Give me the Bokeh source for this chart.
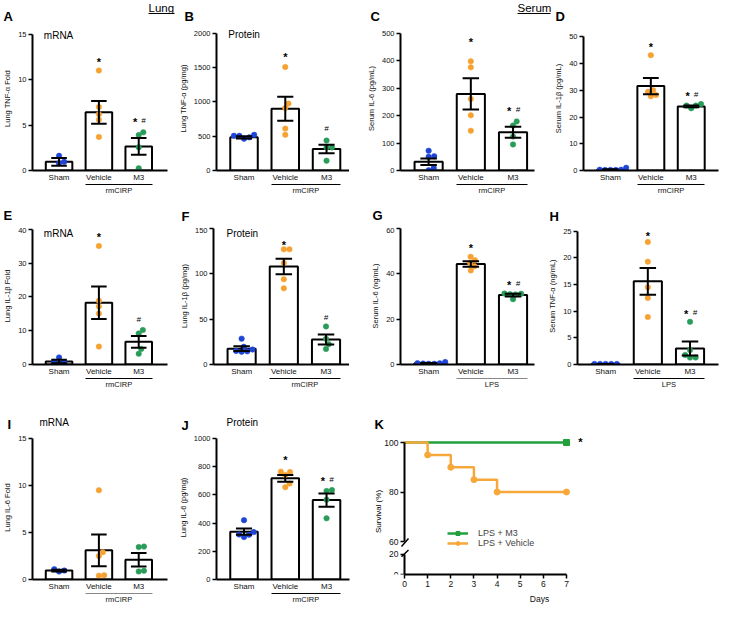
import numpy as np
from bokeh.plotting import figure
from bokeh.models import (Range1d, LinearAxis, FixedTicker, Label, Arrow,
                          Legend, LegendItem)
from bokeh.layouts import row, column
from bokeh.embed import file_html
from bokeh.resources import INLINE
from bokeh.core.properties import value

GROUPS = ["Sham", "Vehicle", "M3"]

# ---------------- data ----------------
# A: Lung TNF-α mRNA (fold)
A_sham = [1.62, 0.95, 0.8]
A_vehicle = [11.0, 7.0, 6.2, 5.6, 3.7]
A_m3 = [4.2, 3.9, 2.55, 0.25]
A_mean = [0.95, 6.4, 2.65]
A_sem = [0.42, 1.25, 0.92]
A_sig = ["", "*", "* #"]
A_sig_y = [0, 12.1, 5.5]

# B: Lung TNF-α protein (pg/mg)
B_sham = [520, 506, 464, 483, 506]
B_vehicle = [1508, 975, 910, 611, 520]
B_m3 = [437, 336, 336, 143]
B_mean = [483, 900, 313]
B_sem = [15, 175, 62]
B_sig = ["", "*", "#"]
B_sig_y = [0, 1683, 611]

# C: Serum IL-6 (pg/mL), rmCIRP
C_sham = [72, 50, 52, 9, 1]
C_vehicle = [398, 376, 261, 201, 145]
C_m3 = [164, 179, 124, 95]
C_mean = [32, 279, 139]
C_sem = [12, 57, 20]
C_sig = ["", "*", "* #"]
C_sig_y = [0, 474, 222]

# D: Serum IL-1β (pg/mL)
D_sham = [0.2, 0.2, 0.2, 0.3, 0.3, 1.0]
D_vehicle = [43.2, 30.1, 29.5, 28.3, 27.8]
D_m3 = [24.3, 23.3, 24.3, 24.9]
D_mean = [0.3, 31.6, 24.0]
D_sem = [0.15, 3.0, 0.35]
D_sig = ["", "*", "* #"]
D_sig_y = [0, 46.9, 28.6]

# E: Lung IL-1β mRNA (fold)
E_sham = [2.1, 0.8, 0.6, 0.3]
E_vehicle = [35.1, 18.9, 17.2, 15.1, 5.3]
E_m3 = [10.2, 9.2, 4.6, 3.2]
E_mean = [0.9, 18.3, 6.7]
E_sem = [0.5, 4.8, 1.75]
E_sig = ["", "*", "#"]
E_sig_y = [0, 38.3, 13.3]

# F: Lung IL-1β protein (pg/mg)
F_sham = [28.5, 19.5, 15.0, 14.0, 14.5, 16.5]
F_vehicle = [127, 127, 112, 94, 84]
F_m3 = [42, 28.3, 22.4, 17.2]
F_mean = [17.5, 108, 27.5]
F_sem = [2.5, 8.5, 5.5]
F_sig = ["", "*", "#"]
F_sig_y = [0, 133.8, 51.7]

# G: Serum IL-6 (ng/mL), LPS
G_sham = [0.3, 0.3, 0.4, 0.5, 0.6, 1.1]
G_vehicle = [47.5, 46.0, 44.8, 43.3, 41.5]
G_m3 = [31.3, 31.0, 30.9, 31.2, 28.8]
G_mean = [0.5, 44.3, 30.6]
G_sem = [0.15, 1.2, 0.6]
G_sig = ["", "*", "* #"]
G_sig_y = [0, 51.8, 35.6]

# H: Serum TNF-α (ng/mL), LPS
H_sham = [0.1, 0.1, 0.1, 0.1, 0.1]
H_vehicle = [23.0, 19.3, 14.5, 12.5, 8.9]
H_m3 = [8.0, 2.7, 1.8, 1.3, 1.3]
H_mean = [0.1, 15.6, 3.0]
H_sem = [0.0, 2.5, 1.3]
H_sig = ["", "*", "* #"]
H_sig_y = [0, 24.4, 9.8]

# I: Lung IL-6 mRNA (fold)
I_sham = [0.85, 1.1, 0.95]
I_vehicle = [9.5, 2.9, 2.5, 0.4, 0.45]
I_m3 = [3.5, 3.45, 0.86, 0.93]
I_mean = [0.95, 3.1, 2.1]
I_sem = [0.1, 1.7, 0.72]
I_sig = ["", "", ""]
I_sig_y = [0, 0, 0]

# J: Lung IL-6 protein (pg/mg)
J_sham = [421, 319, 301, 317, 336]
J_vehicle = [762, 765, 742, 680, 655]
J_m3 = [628, 634, 566, 434]
J_mean = [339, 718, 563]
J_sem = [22, 24, 47]
J_sig = ["", "*", "* #"]
J_sig_y = [0, 860, 710]

# K: survival (%)
K_days_m3 = [0, 7]
K_surv_m3 = [100, 100]
K_days_veh = [0, 1, 2, 3, 4, 7]
K_surv_veh = [100, 95, 90, 85, 80, 80]

# ---------------- styling / layout ----------------
S = 0.97
def P(v):
    return int(round(v * S))

FONT = "Liberation Sans"
BLUE, ORANGE, GREEN = "#1f45d6", "#f6a233", "#2a9c5a"
GCOL = [BLUE, ORANGE, GREEN]
CAT_PX = 43.5           # reference px between category centres
BAR_W = 29 / CAT_PX
CAP = 8.5 / CAT_PX
X0 = 1 - 29 / CAT_PX
FULL_W = P(741)
LETTER = "13px"


def style_axis(ax, size="7.5px"):
    ax.axis_line_width = 2
    ax.axis_line_color = "black"
    ax.major_tick_line_width = 1.5
    ax.major_tick_line_color = "black"
    ax.major_tick_out = 4
    ax.major_tick_in = 0
    ax.minor_tick_out = 0
    ax.minor_tick_in = 0
    ax.major_label_text_font = FONT
    ax.major_label_text_font_size = size
    ax.major_label_text_color = "#111111"
    ax.major_label_standoff = 2
    ax.axis_label_text_font = FONT
    ax.axis_label_text_font_size = size
    ax.axis_label_text_font_style = "normal"
    ax.axis_label_text_color = "#111111"
    ax.axis_label_standoff = 3


def add_label(p, x, y, text, size, bold=False, align="left", angle=0.0):
    p.add_layout(Label(x=x, y=y, text=text, text_font=FONT, text_font_size=size,
                       text_font_style="bold" if bold else "normal",
                       text_align=align, text_baseline="middle", angle=angle,
                       text_color="black"))


def add_line(p, xa, ya, xb, yb, width=1.0, color="black"):
    p.add_layout(Arrow(start=None, end=None, x_start=xa, y_start=ya, x_end=xb, y_end=yb,
                       line_color=color, line_width=width))


def header(y0, y1, texts, lines):
    """Strip above a row of panels holding the panel letters and section titles."""
    H = P(y1) - P(y0)
    p = figure(width=FULL_W, height=H, x_range=Range1d(0, FULL_W), y_range=Range1d(H, 0),
               x_axis_type=None, y_axis_type=None, output_backend="svg",
               toolbar_location=None, min_border=0)
    p.outline_line_color = None
    for (t, X, Y, size, bold) in texts:
        p.text(x=[P(X)], y=[P(Y) - P(y0)], text=[t], text_font=value(FONT),
               text_font_size=size, text_font_style="bold" if bold else "normal",
               text_align="left", text_baseline="middle", text_color="black")
    for (Xa, Xb, Y) in lines:
        p.segment(x0=[P(Xa)], x1=[P(Xb)], y0=[P(Y) - P(y0)], y1=[P(Y) - P(y0)],
                  line_color="black", line_width=1)
    return p


def swarm(vals, ypx, xpx, d=5.6):
    vals = np.asarray(vals, float)
    order = np.argsort(vals, kind="stable")
    placed = []
    offs = np.zeros(len(vals))
    for i in order:
        y = vals[i] * ypx
        cands = [0.0]
        for (qx, qy) in placed:
            dy = abs(qy - y)
            if dy < d:
                dx = np.sqrt(d * d - dy * dy)
                cands += [qx + dx, qx - dx]
        cands.sort(key=lambda c: (abs(c), -c))
        for c in cands:
            if all((c - qx) ** 2 + (qy - y) ** 2 >= d * d - 1e-6 for qx, qy in placed):
                offs[i] = c
                placed.append((c, y))
                break
    return offs / xpx


def bar_panel(spec):
    fx0, fx1, ry0, ry1 = spec["box"]
    l, r, ytop, b = spec["frame"]
    W = P(fx1) - P(fx0)
    H = P(ry1) - P(ry0)
    bl, br = P(l) - P(fx0), P(fx1) - P(r)
    bb = P(ry1) - P(b)
    fw = W - bl - br
    xpx = CAT_PX * S
    x1 = X0 + fw / xpx
    ymax = spec["ymax"]
    ypx = (P(b) - P(ytop)) / ymax
    yext = (P(b) - P(ry0)) / ypx

    p = figure(width=W, height=H, x_range=Range1d(X0, x1), y_range=Range1d(0, yext),
               x_axis_type=None, y_axis_type=None, output_backend="svg",
               toolbar_location=None, min_border_left=bl, min_border_right=br,
               min_border_top=0, min_border_bottom=bb)
    p.outline_line_color = None

    def D(X, Y):
        return X0 + (P(X) - P(l)) / xpx, (P(b) - P(Y)) / ypx

    yax = LinearAxis(ticker=FixedTicker(ticks=spec["ticks"], minor_ticks=[]),
                     axis_label=spec["ylabel"], bounds=(0, ymax))
    style_axis(yax)
    p.add_layout(yax, "left")

    xax = LinearAxis(ticker=FixedTicker(ticks=[1, 2, 3], minor_ticks=[]),
                     major_label_overrides={1: GROUPS[0], 2: GROUPS[1], 3: GROUPS[2]})
    style_axis(xax, "8px")
    xax.major_tick_out = 0
    xax.major_label_standoff = 2
    p.add_layout(xax, "below")

    gax = LinearAxis(ticker=FixedTicker(ticks=[2.5], minor_ticks=[]),
                     major_label_overrides={2.5: spec["group"]}, bounds=(1.66, 3.34))
    style_axis(gax, "7.5px")
    gax.axis_line_width = 1
    gax.axis_line_color = spec.get("gcolor", "black")
    gax.major_tick_out = 0
    gax.major_label_standoff = 1
    p.add_layout(gax, "below")

    xs = np.array([1, 2, 3], float)
    mean = np.array(spec["mean"], float)
    sem = np.array(spec["sem"], float)
    p.vbar(x=xs, top=mean, bottom=0, width=BAR_W, fill_color="white",
           line_color="black", line_width=2)
    for gi, vals in enumerate(spec["pts"]):
        offs = swarm(vals, ypx, xpx)
        p.scatter(x=gi + 1 + offs, y=vals, size=5.5, fill_color=GCOL[gi],
                  line_color=GCOL[gi], line_width=0.5)
    p.segment(x0=xs, y0=mean - sem, x1=xs, y1=mean + sem, line_color="black", line_width=2)
    p.segment(x0=xs - CAP, y0=mean + sem, x1=xs + CAP, y1=mean + sem,
              line_color="black", line_width=2)
    p.segment(x0=xs - CAP, y0=mean - sem, x1=xs + CAP, y1=mean - sem,
              line_color="black", line_width=2)

    sx, sy, hx, hy = [], [], [], []
    for gi, (s, yv) in enumerate(zip(spec["sig"], spec["sig_y"])):
        if "*" in s and "#" in s:
            sx.append(gi + 1 - 0.09); sy.append(yv - 1.5 / ypx)
            hx.append(gi + 1 + 0.12); hy.append(yv)
        elif "*" in s:
            sx.append(gi + 1); sy.append(yv - 1.5 / ypx)
        elif "#" in s:
            hx.append(gi + 1); hy.append(yv)
    if sx:
        p.text(x=sx, y=sy, text=["*"] * len(sx), text_align="center",
               text_baseline="middle", text_font=value(FONT), text_font_size="11px",
               text_font_style="bold", text_color="black")
    if hx:
        p.text(x=hx, y=hy, text=["#"] * len(hx), text_align="center",
               text_baseline="middle", text_font=value(FONT), text_font_size="8px",
               text_font_style="italic", text_color="black")

    if "inner" in spec:
        it, ix, iy = spec["inner"]
        add_label(p, *D(ix, iy), it, "10px")
    return p


R1 = (27, 203)
R2 = (234, 403)
R3 = (448, 625)

specs = {
    "A": dict(box=(0, 180) + R1, frame=(25, 172, 35, 180), ymax=15, ticks=[0, 5, 10, 15],
              ylabel="Lung TNF-α Fold", pts=[A_sham, A_vehicle, A_m3], mean=A_mean, sem=A_sem,
              sig=A_sig, sig_y=A_sig_y, group="rmCIRP", inner=("mRNA", 37, 36)),
    "B": dict(box=(180, 360) + R1, frame=(220, 360, 34, 179), ymax=2000,
              ticks=[0, 500, 1000, 1500, 2000], ylabel="Lung TNF-α (pg/mg)",
              pts=[B_sham, B_vehicle, B_m3], mean=B_mean, sem=B_sem, sig=B_sig, sig_y=B_sig_y,
              group="rmCIRP", inner=("Protein", 232, 35)),
    "C": dict(box=(360, 568) + R1, frame=(412, 550, 34, 179), ymax=500,
              ticks=[0, 100, 200, 300, 400, 500], ylabel="Serum IL-6 (pg/mL)",
              pts=[C_sham, C_vehicle, C_m3], mean=C_mean, sem=C_sem, sig=C_sig, sig_y=C_sig_y,
              group="rmCIRP"),
    "D": dict(box=(568, 741) + R1, frame=(595, 740, 38, 182), ymax=50,
              ticks=[0, 10, 20, 30, 40, 50], ylabel="Serum IL-1β (pg/mL)",
              pts=[D_sham, D_vehicle, D_m3], mean=D_mean, sem=D_sem, sig=D_sig, sig_y=D_sig_y,
              group="rmCIRP"),
    "E": dict(box=(0, 180) + R2, frame=(25, 172, 236, 381), ymax=40,
              ticks=[0, 10, 20, 30, 40], ylabel="Lung IL-1β Fold",
              pts=[E_sham, E_vehicle, E_m3], mean=E_mean, sem=E_sem, sig=E_sig, sig_y=E_sig_y,
              group="rmCIRP", inner=("mRNA", 37, 240)),
    "F": dict(box=(180, 360) + R2, frame=(220, 360, 235, 380), ymax=150,
              ticks=[0, 50, 100, 150], ylabel="Lung IL-1β (pg/mg)",
              pts=[F_sham, F_vehicle, F_m3], mean=F_mean, sem=F_sem, sig=F_sig, sig_y=F_sig_y,
              group="rmCIRP", inner=("Protein", 233, 240)),
    "G": dict(box=(360, 560) + R2, frame=(412, 550, 235, 381), ymax=60,
              ticks=[0, 20, 40, 60], ylabel="Serum IL-6 (ng/mL)",
              pts=[G_sham, G_vehicle, G_m3], mean=G_mean, sem=G_sem, sig=G_sig, sig_y=G_sig_y,
              group="LPS", gcolor="#888888"),
    "H": dict(box=(560, 741) + R2, frame=(595, 740, 238, 383), ymax=25,
              ticks=[0, 5, 10, 15, 20, 25], ylabel="Serum TNF-α (ng/mL)",
              pts=[H_sham, H_vehicle, H_m3], mean=H_mean, sem=H_sem, sig=H_sig, sig_y=H_sig_y,
              group="LPS"),
    "I": dict(box=(0, 180) + R3, frame=(25, 172, 452, 597), ymax=15,
              ticks=[0, 5, 10, 15], ylabel="Lung IL-6 Fold",
              pts=[I_sham, I_vehicle, I_m3], mean=I_mean, sem=I_sem, sig=I_sig, sig_y=I_sig_y,
              group="rmCIRP", gcolor="#888888"),
    "J": dict(box=(180, 370) + R3, frame=(220, 360, 452, 597), ymax=1000,
              ticks=[0, 200, 400, 600, 800, 1000], ylabel="Lung IL-6 (pg/mg)",
              pts=[J_sham, J_vehicle, J_m3], mean=J_mean, sem=J_sem, sig=J_sig, sig_y=J_sig_y,
              group="rmCIRP"),
}

figs = {k: bar_panel(v) for k, v in specs.items()}

h1 = header(0, R1[0],
            [("A", 3, 16, LETTER, True), ("B", 190, 16, LETTER, True),
             ("C", 381, 16, LETTER, True), ("D", 572, 16, LETTER, True),
             ("Lung", 153, 7, "11.5px", False), ("Serum", 533, 7, "11.5px", False)],
            [(153, 179, 13), (533, 567, 13)])
h2 = header(R1[1], R2[0],
            [("E", 3, 222, LETTER, True), ("F", 187, 223, LETTER, True),
             ("G", 383, 222, LETTER, True), ("H", 566, 223, LETTER, True)], [])
h3 = header(R2[1], R3[0],
            [("I", 7, 437, LETTER, True), ("J", 187, 438, LETTER, True),
             ("K", 386, 437, LETTER, True), ("mRNA", 40, 435, "10px", False),
             ("Protein", 233, 435, "10px", False)], [])

# ---------------- K: survival with broken axis ----------------
KX0, KX7 = 417, 584
kxpx = (P(KX7) - P(KX0)) / 7
kx_range = Range1d(-(P(KX0) - P(370)) / kxpx, (P(741) - P(KX0)) / kxpx)

# top part: 60–100 %
T_Y100, T_Y60, T_TOP, T_BOT = 456, 558, R3[0], 564
kyt = (P(T_Y60) - P(T_Y100)) / 40
ktop = figure(width=P(741) - P(370), height=P(T_BOT) - P(T_TOP), x_range=kx_range,
              y_range=Range1d(60 - (P(T_BOT) - P(T_Y60)) / kyt, 100 + (P(T_Y100) - P(T_TOP)) / kyt),
              x_axis_type=None, y_axis_type=None, output_backend="svg",
              toolbar_location=None, min_border=0)
ktop.outline_line_color = None


def Dt(X, Y):
    return (P(X) - P(KX0)) / kxpx, 60 + (P(T_Y60) - P(Y)) / kyt


# bottom part: 0–20 %
B_Y20, B_Y0, B_TOP, B_END = 572, 597, 564, 625
kyb = (P(B_Y0) - P(B_Y20)) / 20
kbot = figure(width=P(741) - P(370), height=P(B_END) - P(B_TOP), x_range=kx_range,
              y_range=Range1d(0, 20 + (P(B_Y20) - P(B_TOP)) / kyb),
              x_axis_type=None, y_axis_type=None, output_backend="svg",
              toolbar_location=None, min_border_left=0, min_border_right=0,
              min_border_top=0, min_border_bottom=P(B_END) - P(B_Y0))
kbot.outline_line_color = None


def Db(X, Y):
    return (P(X) - P(KX0)) / kxpx, (P(B_Y0) - P(Y)) / kyb


yt = LinearAxis(ticker=FixedTicker(ticks=[60, 80, 100], minor_ticks=[]), bounds=(60, 100),
                fixed_location=0)
style_axis(yt, "8.5px")
ktop.add_layout(yt, "left")
yb = LinearAxis(ticker=FixedTicker(ticks=[0, 20], minor_ticks=[]), bounds=(0, 20),
                fixed_location=0)
style_axis(yb, "8.5px")
kbot.add_layout(yb, "left")
xb = LinearAxis(ticker=FixedTicker(ticks=list(range(8)), minor_ticks=[]), bounds=(0, 7),
                axis_label="Days")
style_axis(xb, "8.5px")
xb.axis_label_standoff = 4
kbot.add_layout(xb, "below")

KGREEN, KORANGE = "#22a03c", "#f7a83a"
gl = ktop.step(x=K_days_m3, y=K_surv_m3, mode="after", line_color=KGREEN, line_width=2.5)
gs = ktop.scatter(x=K_days_m3[1:], y=K_surv_m3[1:], marker="square", size=6,
                  fill_color=KGREEN, line_color=KGREEN)
ol = ktop.step(x=K_days_veh, y=K_surv_veh, mode="after", line_color=KORANGE, line_width=2.5)
os_ = ktop.scatter(x=K_days_veh[1:], y=K_surv_veh[1:], marker="circle", size=6,
                   fill_color=KORANGE, line_color=KORANGE)

leg = Legend(items=[LegendItem(label="LPS + M3", renderers=[gl, gs]),
                    LegendItem(label="LPS + Vehicle", renderers=[ol, os_])],
             location=(P(461) - P(370), -1), orientation="vertical")
leg.border_line_color = None
leg.background_fill_alpha = 0
leg.label_text_font = FONT
leg.label_text_font_size = "9px"
leg.glyph_width = P(22)
leg.glyph_height = 10
leg.label_height = 10
leg.spacing = -2
leg.padding = 0
leg.margin = 0
leg.label_standoff = P(10)
ktop.add_layout(leg)

add_label(ktop, *Dt(390, 527), "Survival (%)", "8px", align="center", angle=np.pi / 2)
add_label(ktop, *Dt(598, 455), "*", "11px", bold=True, align="center")
# axis break marks
xa, ya = Dt(413, 563)
xb_, yb_ = Dt(421, 555)
add_line(ktop, xa, ya, xb_, yb_, 1.5)
xa, ya = Db(413, 575)
xb_, yb_ = Db(421, 567)
add_line(kbot, xa, ya, xb_, yb_, 1.5)

layout = column(
    h1,
    row(figs["A"], figs["B"], figs["C"], figs["D"]),
    h2,
    row(figs["E"], figs["F"], figs["G"], figs["H"]),
    h3,
    row(figs["I"], figs["J"], column(ktop, kbot)),
)

open("out.html", "w").write(file_html(layout, INLINE))
